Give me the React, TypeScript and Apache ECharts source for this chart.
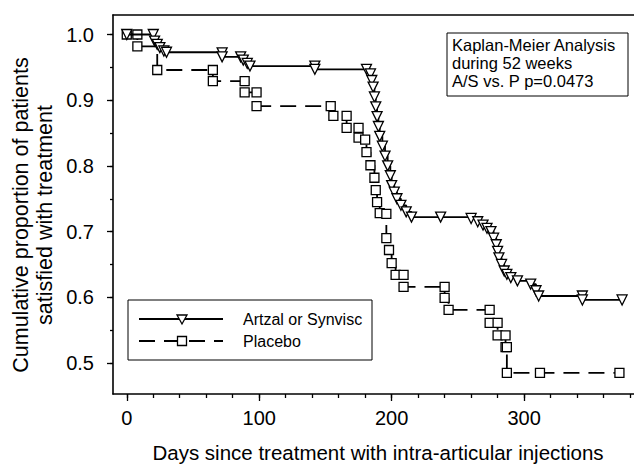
import React, { useEffect, useRef } from 'react';
import * as echarts from 'echarts';

// ---- data ----
const seriesNames = ['Artzal or Synvisc', 'Placebo'];

const artzalDays = [0, 20, 21, 23, 25, 28, 30, 72, 72, 86, 88, 91, 93, 142, 142, 181, 184, 185, 186, 187, 188, 189, 190, 191, 193, 195, 197, 199, 200, 202, 204, 207, 211, 215, 237, 260, 265, 269, 272, 275, 277, 279, 280, 281, 283, 285, 287, 290, 295, 305, 309, 311, 344, 344, 374];
const artzalSurv = [1.0, 1.0, 0.99, 0.985, 0.98, 0.975, 0.973, 0.972, 0.966, 0.966, 0.961, 0.956, 0.952, 0.952, 0.947, 0.947, 0.94, 0.93, 0.92, 0.905, 0.89, 0.875, 0.86, 0.845, 0.83, 0.815, 0.8, 0.785, 0.77, 0.76, 0.75, 0.74, 0.73, 0.722, 0.722, 0.72, 0.715, 0.71, 0.705, 0.7, 0.69, 0.68, 0.67, 0.66, 0.65, 0.64, 0.635, 0.63, 0.625, 0.62, 0.61, 0.602, 0.602, 0.596, 0.596];

const placeboDays = [0, 8, 8, 23, 65, 65, 89, 89, 98, 98, 154, 156, 166, 166, 175, 175, 180, 181, 184, 187, 188, 189, 191, 196, 196, 198, 200, 203, 209, 209, 240, 240, 243, 274, 274, 280, 280, 286, 286, 287, 287, 312, 372];
const placeboSurv = [1.0, 1.0, 0.982, 0.946, 0.946, 0.929, 0.929, 0.912, 0.912, 0.891, 0.891, 0.876, 0.876, 0.858, 0.858, 0.843, 0.84, 0.821, 0.801, 0.782, 0.763, 0.745, 0.728, 0.727, 0.69, 0.672, 0.652, 0.634, 0.634, 0.616, 0.616, 0.599, 0.581, 0.581, 0.561, 0.561, 0.542, 0.542, 0.524, 0.524, 0.485, 0.485, 0.485];

const xMajorTicks = [0, 100, 200, 300];
const xMinorTicks = [0, 20, 40, 60, 80, 100, 120, 140, 160, 180, 200, 220, 240, 260, 280, 300, 320, 340, 360, 380];
const yMajorTicks = [0.5, 0.6, 0.7, 0.8, 0.9, 1.0];
const yMinorTicks = [0.5, 0.55, 0.6, 0.65, 0.7, 0.75, 0.8, 0.85, 0.9, 0.95, 1.0];

const xTitle = 'Days since treatment with intra-articular injections';
const yTitleLines = ['Cumulative proportion of patients', 'satisfied with treatment'];
const annotationLines = ['Kaplan-Meier Analysis', 'during 52 weeks', 'A/S vs. P p=0.0473'];

const FONT = "'Liberation Sans', Arial, Helvetica, sans-serif";
const X_MIN = -10.4;
const X_MAX = 383;
const Y_MIN = 0.4528;
const Y_MAX = 1.0297;

const zip = (xs: number[], ys: number[]) => xs.map((x, i) => [x, ys[i]]);

export default function App() {
  const ref = useRef<HTMLDivElement>(null);

  useEffect(() => {
    if (!ref.current) return;
    const chart = echarts.init(ref.current, null, { renderer: 'svg' });
    const axisLineStyle = { color: '#000', width: 1.6 };
    const tickStyle = { color: '#000', width: 1.3 };

    const option: any = {
      animation: false,
      backgroundColor: '#fff',
      grid: { left: 113, right: 0, top: 15, bottom: 75 },
      xAxis: [
        {
          type: 'value', position: 'bottom', min: X_MIN, max: X_MAX,
          axisLine: { show: true, onZero: false, lineStyle: axisLineStyle },
          axisTick: { show: true, length: 7, customValues: xMajorTicks, lineStyle: tickStyle },
          axisLabel: { customValues: xMajorTicks, margin: 14, fontSize: 20, color: '#000', fontFamily: FONT },
          splitLine: { show: false },
        },
        {
          type: 'value', position: 'bottom', min: X_MIN, max: X_MAX,
          axisLine: { show: false, onZero: false },
          axisTick: { show: true, length: 4, customValues: xMinorTicks, lineStyle: tickStyle },
          axisLabel: { show: false },
          splitLine: { show: false },
        },
        {
          type: 'value', position: 'top', min: X_MIN, max: X_MAX,
          axisLine: { show: true, onZero: false, lineStyle: axisLineStyle },
          axisTick: { show: false },
          axisLabel: { show: false },
          splitLine: { show: false },
        },
      ],
      yAxis: [
        {
          type: 'value', position: 'left', min: Y_MIN, max: Y_MAX,
          axisLine: { show: true, onZero: false, lineStyle: axisLineStyle },
          axisTick: { show: true, length: 6, customValues: yMajorTicks, lineStyle: tickStyle },
          axisLabel: {
            customValues: yMajorTicks, margin: 19, fontSize: 20, color: '#000', fontFamily: FONT,
            formatter: (v: number) => v.toFixed(1),
          },
          splitLine: { show: false },
        },
        {
          type: 'value', position: 'left', min: Y_MIN, max: Y_MAX,
          axisLine: { show: false, onZero: false },
          axisTick: { show: true, length: 3, customValues: yMinorTicks, lineStyle: tickStyle },
          axisLabel: { show: false },
          splitLine: { show: false },
        },
      ],
      series: [
        {
          name: seriesNames[0], type: 'line', step: 'end', xAxisIndex: 0, yAxisIndex: 0,
          data: zip(artzalDays, artzalSurv),
          symbol: 'triangle', symbolRotate: 180, symbolSize: 10, showAllSymbol: true,
          lineStyle: { color: '#000', width: 1.8 },
          itemStyle: { color: '#fff', borderColor: '#000', borderWidth: 1.3 },
          z: 3,
        },
        {
          name: seriesNames[1], type: 'line', step: 'end', xAxisIndex: 0, yAxisIndex: 0,
          data: zip(placeboDays, placeboSurv),
          symbol: 'rect', symbolSize: 9, showAllSymbol: true,
          lineStyle: { color: '#000', width: 1.8, type: [16, 9] },
          itemStyle: { color: '#fff', borderColor: '#000', borderWidth: 1.3 },
          z: 2,
        },
      ],
      graphic: [
        // annotation box
        {
          type: 'rect', shape: { x: 447, y: 33, width: 181, height: 63 },
          style: { fill: '#fff', stroke: '#000', lineWidth: 1 }, z: 10,
        },
        ...annotationLines.map((t, i) => ({
          type: 'text', x: 452, y: 45 + i * 18, z: 11,
          style: { text: t, fill: '#000', font: `16.5px ${FONT}`, verticalAlign: 'middle', align: 'left' },
        })),
        // legend box
        {
          type: 'rect', shape: { x: 128, y: 300, width: 244, height: 60 },
          style: { fill: '#fff', stroke: '#000', lineWidth: 1 }, z: 10,
        },
        {
          type: 'line', shape: { x1: 139, y1: 319, x2: 223, y2: 319 },
          style: { stroke: '#000', lineWidth: 1.8 }, z: 11,
        },
        {
          type: 'polygon', shape: { points: [[177, 315], [187, 315], [182, 324]] },
          style: { fill: '#fff', stroke: '#000', lineWidth: 1.3 }, z: 12,
        },
        {
          type: 'line', shape: { x1: 139, y1: 341, x2: 223, y2: 341 },
          style: { stroke: '#000', lineWidth: 1.8, lineDash: [16, 9] }, z: 11,
        },
        {
          type: 'rect', shape: { x: 177.5, y: 336.5, width: 9, height: 9 },
          style: { fill: '#fff', stroke: '#000', lineWidth: 1.3 }, z: 12,
        },
        {
          type: 'text', x: 243, y: 319, z: 11,
          style: { text: seriesNames[0], fill: '#000', font: `16px ${FONT}`, verticalAlign: 'middle' },
        },
        {
          type: 'text', x: 243, y: 341, z: 11,
          style: { text: seriesNames[1], fill: '#000', font: `16px ${FONT}`, verticalAlign: 'middle' },
        },
        // axis titles
        {
          type: 'text', x: 378, y: 452,
          style: { text: xTitle, fill: '#000', font: `20.5px ${FONT}`, align: 'center', verticalAlign: 'middle' },
        },
        ...yTitleLines.map((t, i) => ({
          type: 'text', x: 21 + i * 24, y: 215, rotation: Math.PI / 2,
          style: { text: t, fill: '#000', font: `21.5px ${FONT}`, align: 'center', verticalAlign: 'middle' },
        })),
      ],
    };
    chart.setOption(option);
    return () => chart.dispose();
  }, []);

  return (
    <div
      ref={ref}
      style={{ position: 'fixed', left: 0, top: 0, width: 634, height: 469, background: '#fff' }}
    />
  );
}
